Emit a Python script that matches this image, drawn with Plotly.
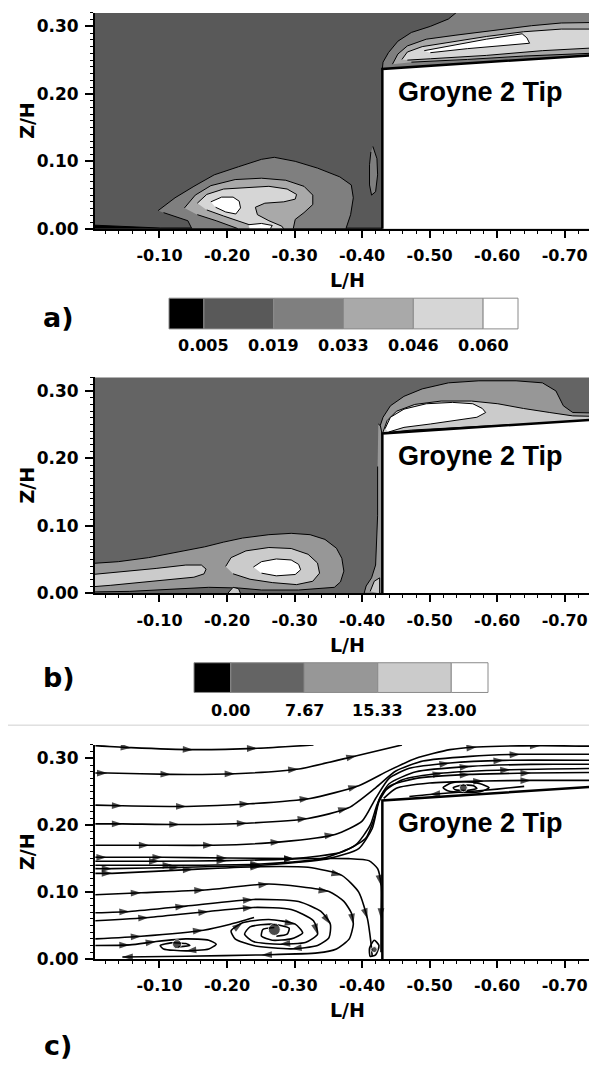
import plotly.graph_objects as go

# ---------------- axes / ticks ----------------
x_tickvals = [-0.10, -0.20, -0.30, -0.40, -0.50, -0.60, -0.70]
x_ticktext = ["-0.10", "-0.20", "-0.30", "-0.40", "-0.50", "-0.60", "-0.70"]
y_tickvals = [0.00, 0.10, 0.20, 0.30]
y_ticktext = ["0.00", "0.10", "0.20", "0.30"]
x_range = [-0.0045, -0.736]
y_range = [0.0, 0.32]

# groyne (L/H, Z/H)
groyne_L = [-0.430, -0.430, -0.760, -0.760]
groyne_Z = [-0.010, 0.237, 0.2586, -0.010]

# ---------------- panel a : levels ----------------
a_levels = ["0.005", "0.019", "0.033", "0.046", "0.060"]
a_colors = ["#000000", "#595959", "#7f7f7f", "#a9a9a9", "#d6d6d6", "#ffffff"]

a_black_L = [0.010, -0.056, -0.101, -0.430, -0.430, 0.010]
a_black_Z = [0.006, 0.003, 0.0012, 0.001, -0.010, -0.010]

a_low1_L = [-0.098, -0.123, -0.151, -0.181, -0.217, -0.251, -0.270, -0.301, -0.334, -0.367, -0.384, -0.387, -0.383, -0.376, -0.148, -0.142, -0.106]
a_low1_Z = [0.027, 0.046, 0.063, 0.080, 0.092, 0.103, 0.106, 0.100, 0.090, 0.077, 0.065, 0.046, 0.021, 0.000, 0.000, 0.012, 0.024]
a_low2_L = [-0.137, -0.153, -0.176, -0.212, -0.251, -0.287, -0.314, -0.327, -0.327, -0.314, -0.301, -0.298, -0.217, -0.184, -0.156]
a_low2_Z = [0.031, 0.050, 0.064, 0.073, 0.075, 0.072, 0.063, 0.050, 0.036, 0.024, 0.014, 0.000, 0.000, 0.012, 0.021]
a_low3_L = [-0.156, -0.170, -0.195, -0.228, -0.262, -0.289, -0.303, -0.301, -0.284, -0.256, -0.242, -0.245, -0.262, -0.281, -0.284, -0.251, -0.223, -0.195, -0.170]
a_low3_Z = [0.038, 0.051, 0.059, 0.061, 0.063, 0.059, 0.051, 0.044, 0.040, 0.038, 0.032, 0.021, 0.012, 0.004, 0.000, 0.000, 0.009, 0.019, 0.028]
a_low4_L = [-0.176, -0.192, -0.209, -0.218, -0.220, -0.213, -0.198, -0.183]
a_low4_Z = [0.040, 0.047, 0.047, 0.041, 0.031, 0.022, 0.025, 0.032]
a_low4b_L = [-0.231, -0.251, -0.267, -0.264, -0.234]
a_low4b_Z = [0.006, 0.008, 0.005, 0.000, 0.000]
a_wall1_L = [-0.416, -0.422, -0.423, -0.420, -0.414, -0.411, -0.411, -0.413]
a_wall1_Z = [0.122, 0.104, 0.080, 0.055, 0.050, 0.065, 0.095, 0.114]

a_up1_L = [-0.430, -0.431, -0.439, -0.453, -0.473, -0.501, -0.528, -0.551, -0.760, -0.760]
a_up1_Z = [0.237, 0.247, 0.261, 0.278, 0.291, 0.300, 0.311, 0.330, 0.330, 0.256]
a_up2_L = [-0.445, -0.453, -0.467, -0.495, -0.539, -0.595, -0.651, -0.695, -0.760, -0.760, -0.639, -0.556, -0.473]
a_up2_Z = [0.244, 0.259, 0.271, 0.281, 0.287, 0.294, 0.301, 0.305, 0.306, 0.261, 0.256, 0.251, 0.247]
a_up3_L = [-0.459, -0.467, -0.489, -0.528, -0.584, -0.639, -0.695, -0.760, -0.760, -0.667, -0.584, -0.501, -0.467]
a_up3_Z = [0.251, 0.262, 0.270, 0.276, 0.285, 0.292, 0.296, 0.296, 0.269, 0.264, 0.257, 0.252, 0.250]
a_up4_L = [-0.492, -0.528, -0.584, -0.637, -0.644, -0.648, -0.612, -0.556, -0.501]
a_up4_Z = [0.264, 0.271, 0.281, 0.289, 0.283, 0.275, 0.272, 0.267, 0.261]

# ---------------- panel b : levels ----------------
b_levels = ["0.00", "7.67", "15.33", "23.00"]
b_colors = ["#000000", "#646464", "#979797", "#cbcbcb", "#ffffff"]

b_low1_L = [0.010, -0.039, -0.084, -0.128, -0.167, -0.195, -0.223, -0.262, -0.295, -0.323, -0.345, -0.362, -0.370, -0.373, -0.368, -0.359, -0.306, -0.251, -0.217, -0.173, -0.112, -0.056, 0.010]
b_low1_Z = [0.0437, 0.047, 0.053, 0.061, 0.069, 0.076, 0.082, 0.087, 0.089, 0.087, 0.080, 0.067, 0.052, 0.033, 0.017, 0.009, 0.005, 0.005, 0.008, 0.009, 0.006, 0.003, 0.002]
b_low2_L = [0.010, -0.045, -0.095, -0.139, -0.162, -0.169, -0.166, -0.151, -0.112, -0.067, -0.028, 0.010]
b_low2_Z = [0.027, 0.032, 0.037, 0.042, 0.042, 0.036, 0.029, 0.024, 0.020, 0.016, 0.012, 0.009]
b_low2b_L = [-0.198, -0.206, -0.228, -0.262, -0.295, -0.320, -0.334, -0.337, -0.327, -0.303, -0.267, -0.234, -0.209]
b_low2b_Z = [0.040, 0.053, 0.063, 0.068, 0.0665, 0.058, 0.045, 0.030, 0.018, 0.013, 0.016, 0.021, 0.029]
b_low3_L = [-0.239, -0.251, -0.273, -0.295, -0.306, -0.309, -0.301, -0.273, -0.251]
b_low3_Z = [0.039, 0.047, 0.051, 0.0495, 0.043, 0.035, 0.028, 0.026, 0.030]
b_bot2_L = [-0.201, -0.209, -0.217, -0.220]
b_bot2_Z = [0.000, 0.009, 0.007, 0.000]
b_wall1_L = [-0.424, -0.430, -0.430, -0.403, -0.406, -0.414, -0.420, -0.423, -0.423]
b_wall1_Z = [0.251, 0.246, 0.000, 0.000, 0.011, 0.023, 0.042, 0.115, 0.188]
b_wall2_L = [-0.412, -0.418, -0.426, -0.426]
b_wall2_Z = [0.003, 0.018, 0.023, 0.000]

b_up1_L = [-0.430, -0.427, -0.431, -0.442, -0.462, -0.489, -0.528, -0.573, -0.628, -0.667, -0.687, -0.698, -0.712, -0.760, -0.760]
b_up1_Z = [0.234, 0.249, 0.261, 0.278, 0.292, 0.303, 0.312, 0.315, 0.315, 0.312, 0.300, 0.278, 0.268, 0.267, 0.256]
b_up2_L = [-0.431, -0.437, -0.451, -0.478, -0.517, -0.562, -0.601, -0.639, -0.678, -0.712, -0.760, -0.760, -0.584, -0.473, -0.434]
b_up2_Z = [0.239, 0.256, 0.270, 0.280, 0.285, 0.285, 0.281, 0.274, 0.268, 0.263, 0.262, 0.256, 0.248, 0.242, 0.238]
b_up3_L = [-0.434, -0.442, -0.462, -0.495, -0.534, -0.564, -0.578, -0.583, -0.570, -0.539, -0.501, -0.462, -0.439]
b_up3_Z = [0.244, 0.261, 0.273, 0.281, 0.283, 0.281, 0.274, 0.268, 0.261, 0.256, 0.251, 0.246, 0.239]

# ---------------- panel c : streamlines ----------------
s1_L = [-0.005, -0.058, -0.150, -0.245, -0.328]
s1_Z = [0.319, 0.316, 0.313, 0.315, 0.320]
s1_arrows = [1, 2, 3]
s2_L = [-0.005, -0.023, -0.117, -0.212, -0.306, -0.392, -0.459]
s2_Z = [0.278, 0.278, 0.276, 0.277, 0.284, 0.304, 0.320]
s2_arrows = [1, 2, 3, 4, 5]
s3_L = [-0.005, -0.045, -0.140, -0.234, -0.323, -0.395, -0.440, -0.480, -0.530, -0.570, -0.664, -0.750]
s3_Z = [0.230, 0.229, 0.228, 0.232, 0.240, 0.259, 0.282, 0.300, 0.313, 0.317, 0.319, 0.318]
s3_arrows = [1, 2, 3, 4, 5, 9, 10]
s4_L = [-0.005, -0.045, -0.130, -0.230, -0.320, -0.380, -0.420, -0.450, -0.490, -0.560, -0.634, -0.750]
s4_Z = [0.202, 0.202, 0.201, 0.203, 0.210, 0.226, 0.256, 0.281, 0.296, 0.303, 0.306, 0.306]
s4_arrows = [1, 2, 3, 4, 5, 10]
s5_L = [-0.005, -0.085, -0.180, -0.280, -0.360, -0.400, -0.420, -0.440, -0.470, -0.530, -0.610, -0.750]
s5_Z = [0.170, 0.170, 0.170, 0.175, 0.186, 0.206, 0.240, 0.270, 0.285, 0.293, 0.297, 0.297]
s5_arrows = [1, 2, 3, 4, 9, 10]
s6_L = [-0.005, -0.022, -0.105, -0.200, -0.300, -0.380, -0.410, -0.423, -0.428, -0.428, -0.428]
s6_Z = [0.152, 0.152, 0.152, 0.151, 0.150, 0.150, 0.147, 0.135, 0.110, 0.060, 0.010]
s6_arrows = [1, 2, 3, 4, 8, 9]
s7_L = [-0.005, -0.100, -0.200, -0.300, -0.370, -0.405, -0.418, -0.425, -0.440, -0.480, -0.560, -0.650, -0.750]
s7_Z = [0.146, 0.146, 0.147, 0.150, 0.160, 0.180, 0.210, 0.238, 0.262, 0.280, 0.288, 0.291, 0.291]
s7_arrows = [1, 2, 3, 10]
s8_L = [-0.005, -0.120, -0.250, -0.340, -0.390, -0.412, -0.422, -0.432, -0.460, -0.520, -0.620, -0.750]
s8_Z = [0.140, 0.140, 0.142, 0.150, 0.170, 0.200, 0.230, 0.250, 0.268, 0.278, 0.283, 0.285]
s8_arrows = [1, 2, 9, 10]
s9_L = [-0.005, -0.030, -0.150, -0.250, -0.320, -0.370, -0.395, -0.408, -0.413, -0.415]
s9_Z = [0.128, 0.128, 0.134, 0.138, 0.137, 0.125, 0.100, 0.060, 0.025, 0.004]
s9_arrows = [1, 2, 3, 5, 7]
s10_L = [-0.005, -0.030, -0.130, -0.250, -0.350, -0.395, -0.415, -0.425, -0.440, -0.480, -0.560, -0.650, -0.750]
s10_Z = [0.135, 0.135, 0.137, 0.140, 0.150, 0.165, 0.195, 0.235, 0.258, 0.270, 0.276, 0.278, 0.279]
s10_arrows = [1, 2, 3, 10, 11]
s11_L = [-0.432, -0.450, -0.500, -0.580, -0.650, -0.750]
s11_Z = [0.240, 0.255, 0.263, 0.266, 0.267, 0.267]
s11_arrows = [3, 4]
s12_L = [-0.005, -0.073, -0.167, -0.262, -0.351, -0.373, -0.384, -0.387, -0.381, -0.362, -0.334, -0.251, -0.139, -0.045]
s12_Z = [0.096, 0.099, 0.103, 0.112, 0.101, 0.086, 0.069, 0.052, 0.030, 0.015, 0.009, 0.006, 0.004, 0.003]
s12_arrows = [1, 2, 3, 4, 7, 11, 13]
s13_L = [-0.005, -0.056, -0.139, -0.239, -0.306, -0.339, -0.353, -0.351, -0.334, -0.295, -0.239, -0.212, -0.206, -0.223, -0.262, -0.301, -0.312, -0.295, -0.267, -0.251, -0.253, -0.270]
s13_Z = [0.069, 0.071, 0.079, 0.089, 0.086, 0.071, 0.052, 0.032, 0.020, 0.015, 0.020, 0.030, 0.042, 0.054, 0.059, 0.052, 0.039, 0.030, 0.028, 0.034, 0.044, 0.047]
s13_arrows = [1, 2, 3, 6, 9, 13, 15]
s14_L = [-0.005, -0.084, -0.173, -0.239, -0.295, -0.328, -0.334, -0.317, -0.278, -0.239, -0.226, -0.234, -0.267, -0.292, -0.289, -0.273]
s14_Z = [0.057, 0.062, 0.071, 0.077, 0.074, 0.057, 0.037, 0.025, 0.022, 0.026, 0.037, 0.048, 0.052, 0.046, 0.037, 0.034]
s14_arrows = [1, 2, 3, 6, 8]
s15_L = [-0.005, -0.073, -0.165, -0.205, -0.240]
s15_Z = [0.030, 0.034, 0.043, 0.052, 0.062]
s15_arrows = [1, 2]
s16_L = [-0.005, -0.056, -0.095, -0.139, -0.173, -0.184, -0.173, -0.139, -0.106, -0.101, -0.117, -0.139, -0.145, -0.128]
s16_Z = [0.020, 0.021, 0.026, 0.030, 0.028, 0.022, 0.015, 0.012, 0.015, 0.020, 0.024, 0.023, 0.020, 0.018]
s16_arrows = [1, 2, 7]
v_up_L = [-0.520, -0.532, -0.552, -0.575, -0.588, -0.575, -0.550, -0.528, -0.520]
v_up_Z = [0.256, 0.263, 0.265, 0.262, 0.256, 0.250, 0.249, 0.251, 0.256]
v_up_arrows = []
v_upin_L = [-0.535, -0.548, -0.565, -0.570, -0.555, -0.538, -0.535]
v_upin_Z = [0.256, 0.260, 0.259, 0.255, 0.252, 0.253, 0.256]
v_upin_arrows = []
rev_up_L = [-0.640, -0.600, -0.555, -0.500, -0.470]
rev_up_Z = [0.258, 0.254, 0.250, 0.246, 0.243]
rev_up_arrows = [3]
v_wall_L = [-0.412, -0.420, -0.425, -0.418, -0.411, -0.412]
v_wall_Z = [0.004, 0.006, 0.020, 0.028, 0.016, 0.004]
v_wall_arrows = []

vortex_centre_L = [-0.126, -0.270, -0.550, -0.418]
vortex_centre_Z = [0.022, 0.044, 0.256, 0.014]
vortex_centre_size = [9, 12, 8, 6]

# ---------------- figure geometry (pixels of a 589 x 1068 page) ----------------
W, H = 589, 1068
def px(x):
    return x / W
def py(y):
    return 1 - y / H

plot_left = 95
panels = {  # top, bottom in px
    "a": (13, 231),
    "b": (381, 599),
    "c": (752, 968),
}
axis_suffix = {"a": "", "b": "2", "c": "3"}

XTICKFONT = dict(family="DejaVu Sans", size=16, color="black", weight="bold")
YTICKFONT = dict(family="DejaVu Sans", size=17, color="black", weight="bold")
TITLEFONT = dict(family="DejaVu Sans", size=19, color="black", weight="bold")

fig = go.Figure()

def add_poly(panel, L, Z, color, lw=1.0):
    s = axis_suffix[panel]
    fig.add_trace(go.Scatter(x=L, y=Z, mode="lines", fill="toself", fillcolor=color,
                             line=dict(color="black", width=lw), hoverinfo="skip",
                             xaxis="x" + s, yaxis="y" + s, showlegend=False))

def add_groyne(panel):
    s = axis_suffix[panel]
    fig.add_trace(go.Scatter(x=groyne_L, y=groyne_Z, mode="lines", fill="toself", fillcolor="white",
                             line=dict(color="white", width=0), hoverinfo="skip",
                             xaxis="x" + s, yaxis="y" + s, showlegend=False))
    fig.add_trace(go.Scatter(x=groyne_L[:3], y=groyne_Z[:3], mode="lines",
                             line=dict(color="black", width=2.5), hoverinfo="skip",
                             xaxis="x" + s, yaxis="y" + s, showlegend=False))

# ---- panel a
add_poly("a", a_black_L, a_black_Z, a_colors[0])
add_poly("a", a_low1_L, a_low1_Z, a_colors[2])
add_poly("a", a_low2_L, a_low2_Z, a_colors[3])
add_poly("a", a_low3_L, a_low3_Z, a_colors[4])
add_poly("a", a_low4_L, a_low4_Z, a_colors[5])
add_poly("a", a_low4b_L, a_low4b_Z, a_colors[5])
add_poly("a", a_wall1_L, a_wall1_Z, a_colors[2])
add_poly("a", a_up1_L, a_up1_Z, a_colors[2])
add_poly("a", a_up2_L, a_up2_Z, a_colors[3])
add_poly("a", a_up3_L, a_up3_Z, a_colors[4])
add_poly("a", a_up4_L, a_up4_Z, a_colors[5])
add_groyne("a")

# ---- panel b
add_poly("b", b_low1_L, b_low1_Z, b_colors[2])
add_poly("b", b_low2_L, b_low2_Z, b_colors[3])
add_poly("b", b_low2b_L, b_low2b_Z, b_colors[3])
add_poly("b", b_low3_L, b_low3_Z, b_colors[4])
add_poly("b", b_bot2_L, b_bot2_Z, b_colors[3])
add_poly("b", b_wall1_L, b_wall1_Z, b_colors[2])
add_poly("b", b_wall2_L, b_wall2_Z, b_colors[3])
add_poly("b", b_up1_L, b_up1_Z, b_colors[2])
add_poly("b", b_up2_L, b_up2_Z, b_colors[3])
add_poly("b", b_up3_L, b_up3_Z, b_colors[4])
add_groyne("b")

# ---- panel c
streamlines = [
    (s1_L, s1_Z, s1_arrows), (s2_L, s2_Z, s2_arrows), (s3_L, s3_Z, s3_arrows),
    (s4_L, s4_Z, s4_arrows), (s5_L, s5_Z, s5_arrows), (s6_L, s6_Z, s6_arrows),
    (s7_L, s7_Z, s7_arrows), (s8_L, s8_Z, s8_arrows), (s9_L, s9_Z, s9_arrows),
    (s10_L, s10_Z, s10_arrows), (s11_L, s11_Z, s11_arrows), (s12_L, s12_Z, s12_arrows),
    (s13_L, s13_Z, s13_arrows), (s14_L, s14_Z, s14_arrows), (s15_L, s15_Z, s15_arrows),
    (s16_L, s16_Z, s16_arrows), (v_up_L, v_up_Z, v_up_arrows), (v_upin_L, v_upin_Z, v_upin_arrows),
    (rev_up_L, rev_up_Z, rev_up_arrows), (v_wall_L, v_wall_Z, v_wall_arrows),
]
add_groyne("c")
for L, Z, arr in streamlines:
    sizes = [11 if i in arr else 0 for i in range(len(L))]
    fig.add_trace(go.Scatter(x=L, y=Z, mode="lines+markers",
                             line=dict(color="black", width=1.6, shape="spline", smoothing=0.6),
                             marker=dict(symbol="arrow", size=sizes, angleref="previous",
                                         color="black", line=dict(width=0)),
                             hoverinfo="skip", xaxis="x3", yaxis="y3", showlegend=False))
fig.add_trace(go.Scatter(x=vortex_centre_L, y=vortex_centre_Z, mode="markers",
                         marker=dict(symbol="circle", size=vortex_centre_size, color="black"),
                         hoverinfo="skip", xaxis="x3", yaxis="y3", showlegend=False))

# ---------------- axes ----------------
layout_axes = {}
shapes = []
annotations = []
for p, (top, bot) in panels.items():
    s = axis_suffix[p]
    layout_axes["xaxis" + s] = dict(
        domain=[px(plot_left), 1.0], anchor="y" + s, range=x_range,
        tickmode="array", tickvals=x_tickvals, ticktext=x_ticktext,
        ticks="outside", ticklen=7, tickwidth=2, tickcolor="black",
        minor=dict(tickmode="linear", tick0=0, dtick=0.02, ticks="outside", ticklen=3,
                   tickwidth=1, tickcolor="black", showgrid=False),
        showline=True, linecolor="black", linewidth=2, showgrid=False, zeroline=False,
        tickfont=XTICKFONT, ticklabelstandoff=4, ticklabeloverflow="allow", fixedrange=True,
    )
    layout_axes["yaxis" + s] = dict(
        domain=[py(bot), py(top)], anchor="x" + s, range=y_range,
        tickmode="array", tickvals=y_tickvals, ticktext=y_ticktext,
        ticks="outside", ticklen=8, tickwidth=2, tickcolor="black",
        minor=dict(tickmode="linear", tick0=0, dtick=0.01, ticks="outside", ticklen=3,
                   tickwidth=1, tickcolor="black", showgrid=False),
        showline=True, linecolor="black", linewidth=2, showgrid=False, zeroline=False,
        tickfont=YTICKFONT, ticklabelstandoff=3, ticklabeloverflow="allow", fixedrange=True,
    )
    if p in ("a", "b"):
        shapes.append(dict(type="rect", xref="x" + s + " domain", yref="y" + s + " domain",
                           x0=0, x1=1, y0=0, y1=1, line=dict(width=0),
                           fillcolor=a_colors[1] if p == "a" else b_colors[1], layer="below"))
    # axis titles
    annotations.append(dict(text="L/H", xref="paper", yref="paper", x=px(347), y=py(bot + 52),
                            showarrow=False, font=TITLEFONT, xanchor="center", yanchor="middle"))
    annotations.append(dict(text="Z/H", xref="paper", yref="paper", x=px(27), y=py((top + bot) / 2),
                            showarrow=False, font=TITLEFONT, textangle=-90,
                            xanchor="center", yanchor="middle"))
    annotations.append(dict(text="Groyne 2 Tip", xref="x" + s, yref="y" + s, x=-0.450, y=0.203,
                            showarrow=False, xanchor="left", yanchor="middle",
                            font=dict(family="Liberation Sans", size=27, color="black", weight="bold")))

# panel letters
for txt, (x, y) in {"a)": (58, 321), "b)": (59, 684), "c)": (58, 1055)}.items():
    annotations.append(dict(text=txt, xref="paper", yref="paper", x=px(x), y=py(y), showarrow=False,
                            xanchor="center", yanchor="middle",
                            font=dict(family="DejaVu Sans", size=27, color="black", weight="bold")))

# colour bars (drawn as legend boxes)
def colorbar(x0, x1, ytop, ybot, colors, labels, ylab):
    n = len(colors)
    seg = (x1 - x0) / (n - 1)  # first and last boxes are half width
    edges = [x0] + [x0 + seg / 2 + i * seg for i in range(n - 1)] + [x1]
    for i, c in enumerate(colors):
        shapes.append(dict(type="rect", xref="paper", yref="paper", x0=px(edges[i]), x1=px(edges[i + 1]),
                           y0=py(ybot), y1=py(ytop), fillcolor=c, line=dict(color="#8a8a8a", width=1)))
    for i, lab in enumerate(labels):
        annotations.append(dict(text=lab, xref="paper", yref="paper", x=px(edges[i + 1]), y=py(ylab),
                                showarrow=False, xanchor="center", yanchor="middle",
                                font=dict(family="DejaVu Sans", size=16, color="black", weight="bold")))

colorbar(169, 518, 301, 332, a_colors, a_levels, 349)
colorbar(194, 488, 669, 699, b_colors, b_levels, 717)

# separator line
shapes.append(dict(type="line", xref="paper", yref="paper", x0=px(8), x1=1.0, y0=py(732), y1=py(732),
                   line=dict(color="#cfcfcf", width=1)))

fig.update_layout(
    width=W, height=H, margin=dict(l=0, r=0, t=0, b=0),
    paper_bgcolor="white", plot_bgcolor="white", showlegend=False,
    shapes=shapes, annotations=annotations, **layout_axes,
)
fig.write_html("out.html", config={"displayModeBar": False, "staticPlot": True},
               post_script="document.body.style.margin='0px';document.body.style.padding='0px';")
